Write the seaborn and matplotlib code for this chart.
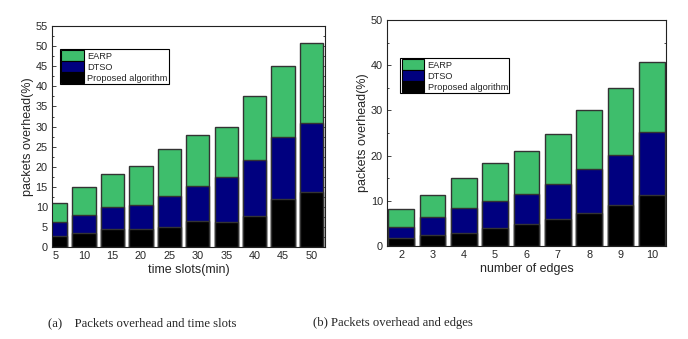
import numpy as np
import pandas as pd
import seaborn as sns
import matplotlib.pyplot as plt
from matplotlib.patches import Patch
from matplotlib.ticker import MultipleLocator

sns.set_style("ticks")
plt.rcParams["font.family"] = ["Liberation Sans", "DejaVu Sans"]

# Dados -------------------------------------------------------------------------

time_slots = ["5", "10", "15", "20", "25", "30", "35", "40", "45", "50"]
prop_time = [2.7, 3.4, 4.6, 4.4, 4.9, 6.6, 6.2, 7.8, 12.1, 13.8]
dtso_time = [3.5, 4.6, 5.4, 6.2, 7.9, 8.5, 11.3, 13.8, 15.3, 17.2]
earp_time = [4.8, 6.9, 8.3, 9.7, 11.6, 12.8, 12.5, 16.0, 17.6, 19.7]

edges = ["2", "3", "4", "5", "6", "7", "8", "9", "10"]
prop_edge = [1.8, 2.5, 3.0, 4.0, 4.9, 5.9, 7.3, 9.1, 11.4]
dtso_edge = [2.4, 3.9, 5.4, 6.0, 6.7, 7.9, 9.8, 11.1, 13.8]
earp_edge = [4.0, 4.9, 6.7, 8.3, 9.5, 11.1, 12.9, 14.8, 15.6]

labels = ["EARP", "DTSO", "Proposed algorithm"]
cores = ["#3ebe6c", "#00007f", "#000000"]

# Plot --------------------------------------------------------------------------

fig = plt.figure(figsize = (6.88, 3.39), dpi = 100)
ax1 = fig.add_axes([0.0756, 0.271, 0.397, 0.652])
ax2 = fig.add_axes([0.5625, 0.274, 0.4055, 0.667])


def empilhado(ax, cats, prop, dtso, earp):
  df = pd.DataFrame({"cat": cats, "prop": prop, "dtso": dtso, "earp": earp})
  df["t_prop"] = df["prop"]
  df["t_dtso"] = df["prop"] + df["dtso"]
  df["t_earp"] = df["t_dtso"] + df["earp"]
  for col, cor in zip(["t_earp", "t_dtso", "t_prop"], cores):
    sns.barplot(data = df, x = "cat", y = col, order = cats, color = cor,
                width = 0.82, edgecolor = "#333333", linewidth = 1.0,
                saturation = 1, ax = ax)


empilhado(ax1, time_slots, prop_time, dtso_time, earp_time)
empilhado(ax2, edges, prop_edge, dtso_edge, earp_edge)

ax1.set_xlim(-0.13, 9.48)
ax1.set_ylim(0, 55)
ax1.yaxis.set_major_locator(MultipleLocator(5))
ax1.yaxis.set_minor_locator(MultipleLocator(2.5))
ax1.set_xlabel("time slots(min)", fontsize = 9, labelpad = 2)

ax2.set_xlim(-0.45, 8.45)
ax2.set_ylim(0, 50)
ax2.yaxis.set_major_locator(MultipleLocator(10))
ax2.yaxis.set_minor_locator(MultipleLocator(5))
ax2.set_xlabel("number of edges", fontsize = 9, labelpad = 2)

handles = [Patch(facecolor = c, edgecolor = "black", linewidth = 0.8) for c in cores]

for ax, anchor in [(ax1, (0.029, 0.896)), (ax2, (0.047, 0.832))]:
  ax.set_ylabel("packets overhead(%)", fontsize = 9, labelpad = 1)
  ax.tick_params(direction = "in", which = "both", top = True, right = True,
                 labelsize = 7.8, pad = 3, length = 3, width = 0.6)
  ax.tick_params(which = "minor", length = 1.5)
  ax.tick_params(axis = "x", which = "both", length = 0, top = False)
  for s in ax.spines.values():
    s.set_linewidth(0.8)
    s.set_color("#222222")
  leg = ax.legend(handles, labels, loc = "upper left", bbox_to_anchor = anchor,
                  fontsize = 6.7, frameon = True, fancybox = False,
                  edgecolor = "black", framealpha = 1, labelspacing = 0.05,
                  handlelength = 2.4, handleheight = 1.35, handletextpad = 0.4,
                  borderpad = 0.15, borderaxespad = 0)
  leg.get_frame().set_linewidth(0.8)

# Legendas dos subgráficos ------------------------------------------------------

fig.text(0.07, 0.047, "(a)    Packets overhead and time slots", fontsize = 9.1,
         family = ["Liberation Serif", "DejaVu Serif"], va = "center")
fig.text(0.455, 0.047, "(b) Packets overhead and edges", fontsize = 9.1,
         family = ["Liberation Serif", "DejaVu Serif"], va = "center")

fig.savefig("out.png", dpi = 100)
